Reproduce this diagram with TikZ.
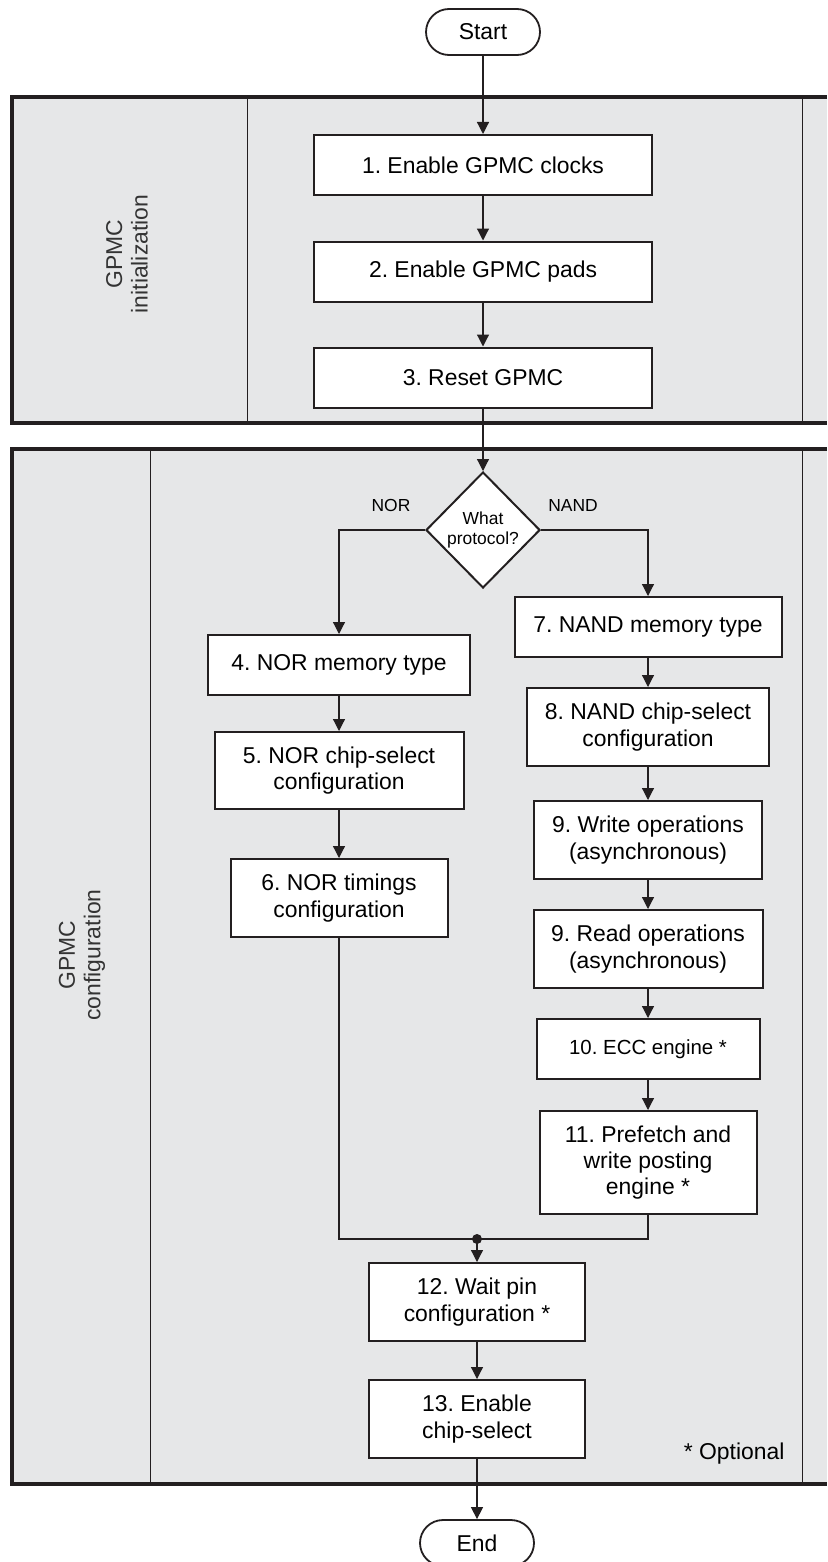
\documentclass[tikz,border=0pt]{standalone}
\usepackage{fontspec}
\setmainfont{Liberation Sans}
\usetikzlibrary{shapes.geometric, arrows.meta, positioning}
\definecolor{LaneGray}{HTML}{E6E7E8}
\definecolor{InkBlack}{HTML}{231F20}
\frenchspacing

\begin{document}
\begin{tikzpicture}[x=1bp, y=-1bp,
    stepbox/.style={draw=InkBlack, line width=2bp, fill=white, align=center, inner sep=0pt,
        font=\fontsize{23}{26.5}\selectfont},
    termbox/.style={stepbox, line width=1.8bp},
    choice/.style={diamond, draw=InkBlack, line width=2bp, fill=white, align=center, inner sep=0pt,
        minimum width=114bp, minimum height=116bp, font=\fontsize{17.5}{20}\selectfont},
    flow/.style={draw=InkBlack, line width=1.2bp},
    arrow/.style={flow, -{Triangle[length=12bp, width=12bp]}},
    laneedge/.style={draw=InkBlack, line width=4bp},
    divider/.style={draw=InkBlack, line width=0.9bp},
    lanelabel/.style={rotate=90, align=center, text=black!80, font=\fontsize{23}{25.5}\selectfont},
    branch/.style={font=\fontsize{17.5}{20}\selectfont}]
    \useasboundingbox (0,0) rectangle (827,1562);

    % Lane 1: initialization
    \fill[LaneGray] (12,97) rectangle (827,423);
    \draw[laneedge] (827,97) -- (12,97) -- (12,423) -- (827,423);
    \draw[divider] (247,97) -- (247,423);
    \draw[divider] (802,97) -- (802,423);
    \node[lanelabel] (lane1) at (127,254) {GPMC\\initialization};

    % Lane 2: configuration
    \fill[LaneGray] (12,449) rectangle (827,1484);
    \draw[laneedge] (827,449) -- (12,449) -- (12,1484) -- (827,1484);
    \draw[divider] (150,449) -- (150,1484);
    \draw[divider] (802,449) -- (802,1484);
    \node[lanelabel] (lane2) at (82,955) {GPMC\\configuration};

    % Start and init steps
    \node[termbox, rounded corners=23bp, minimum width=114bp, minimum height=46bp] (start) at (483,32) {Start};
    \node[stepbox, minimum width=338bp, minimum height=60bp] (b1) at (483,165) {1. Enable GPMC clocks};
    \node[stepbox, minimum width=338bp, minimum height=60bp] (b2) at (483,271.5) {2. Enable GPMC pads};
    \node[stepbox, minimum width=338bp, minimum height=60bp] (b3) at (483,377.5) {3. Reset GPMC};

    % Protocol choice
    \node[choice] (proto) at (483,530) {What\\protocol?};
    \node[branch] (nor) at (391,505) {NOR};
    \node[branch] (nand) at (573,505) {NAND};

    % NOR column
    \node[stepbox, minimum width=262bp, minimum height=60bp] (b4) at (339,665) {4. NOR memory type};
    \node[stepbox, minimum width=249bp, minimum height=77bp] (b5) at (339,770.5) {5. NOR chip-select\\configuration};
    \node[stepbox, minimum width=217bp, minimum height=78bp] (b6) at (339,898) {6. NOR timings\\configuration};

    % NAND column
    \node[stepbox, minimum width=267bp, minimum height=60bp] (b7) at (648,627) {7. NAND memory type};
    \node[stepbox, minimum width=242bp, minimum height=78bp] (b8) at (648,727) {8. NAND chip-select\\configuration};
    \node[stepbox, minimum width=228bp, minimum height=78bp] (b9w) at (648,840) {9. Write operations\\(asynchronous)};
    \node[stepbox, minimum width=229bp, minimum height=78bp] (b9r) at (648,949) {9. Read operations\\(asynchronous)};
    \node[stepbox, minimum width=223bp, minimum height=60bp, font=\fontsize{20.5}{24}\selectfont] (b10) at (648,1049) {10. ECC engine *};
    \node[stepbox, minimum width=217bp, minimum height=103bp] (b11) at (648,1162.5) {11. Prefetch and\\write posting\\engine *};

    % Common steps
    \coordinate (join) at (477,1239);
    \node[stepbox, minimum width=216bp, minimum height=78bp] (b12) at (477,1302) {12. Wait pin\\configuration *};
    \node[stepbox, minimum width=216bp, minimum height=78bp] (b13) at (477,1419) {13. Enable\\chip-select};
    \node[termbox, rounded corners=23bp, minimum width=114bp, minimum height=46bp] (end) at (477,1543) {End};
    \node[anchor=east, font=\fontsize{23}{26}\selectfont] (note) at (788,1454) {* Optional};

    % Connectors
    \draw[arrow] (start) -- (b1);
    \draw[arrow] (b1) -- (b2);
    \draw[arrow] (b2) -- (b3);
    \draw[arrow] (b3) -- (proto);
    \draw[arrow] (proto.west) -| (b4.north);
    \draw[arrow] (proto.east) -| (b7.north);
    \draw[arrow] (b4) -- (b5);
    \draw[arrow] (b5) -- (b6);
    \draw[arrow] (b7) -- (b8);
    \draw[arrow] (b8) -- (b9w);
    \draw[arrow] (b9w) -- (b9r);
    \draw[arrow] (b9r) -- (b10);
    \draw[arrow] (b10) -- (b11);
    \draw[flow] (b6.south) |- (join);
    \draw[flow] (b11.south) |- (join);
    \fill[InkBlack] (join) circle (5);
    \draw[arrow] (join) -- (b12);
    \draw[arrow] (b12) -- (b13);
    \draw[arrow] (b13) -- (end);
\end{tikzpicture}
\end{document}
